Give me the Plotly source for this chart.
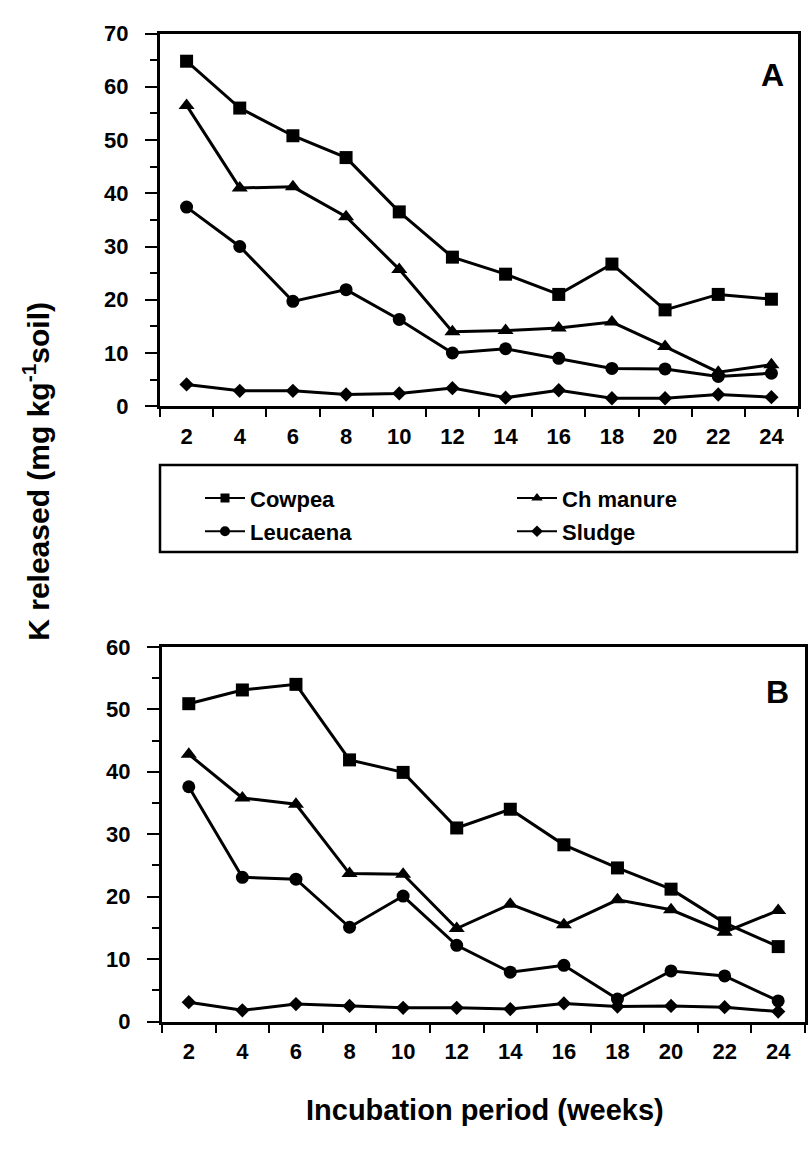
import plotly.graph_objects as go

weeks = [2, 4, 6, 8, 10, 12, 14, 16, 18, 20, 22, 24]
series_names = ["Cowpea", "Ch manure", "Leucaena", "Sludge"]

# Panel A values (mg kg-1 soil)
a_cowpea = [64.8, 56.0, 50.8, 46.7, 36.5, 28.0, 24.8, 21.0, 26.7, 18.1, 21.0, 20.1]
a_chmanure = [56.5, 41.0, 41.2, 35.6, 25.7, 14.0, 14.2, 14.7, 15.8, 11.2, 6.4, 7.8]
a_leucaena = [37.4, 30.0, 19.7, 21.9, 16.3, 10.0, 10.8, 9.0, 7.1, 7.0, 5.6, 6.2]
a_sludge = [4.1, 2.9, 2.9, 2.2, 2.4, 3.4, 1.6, 3.0, 1.5, 1.5, 2.2, 1.7]

# Panel B values
b_cowpea = [50.9, 53.1, 54.0, 41.9, 39.9, 31.0, 34.0, 28.3, 24.6, 21.2, 15.8, 12.0]
b_chmanure = [42.8, 35.8, 34.8, 23.7, 23.6, 14.9, 18.8, 15.5, 19.5, 17.9, 14.3, 17.8]
b_leucaena = [37.6, 23.1, 22.8, 15.1, 20.1, 12.2, 7.9, 9.0, 3.6, 8.1, 7.3, 3.3]
b_sludge = [3.1, 1.8, 2.8, 2.5, 2.2, 2.2, 2.0, 2.9, 2.4, 2.5, 2.3, 1.6]

y_ticks_a = [0, 10, 20, 30, 40, 50, 60, 70]
y_ticks_b = [0, 10, 20, 30, 40, 50, 60]
x_minor_ticks = [1, 3, 5, 7, 9, 11, 13, 15, 17, 19, 21, 23, 25]

W, H = 810, 1149
FONT = "Liberation Sans, Arial, sans-serif"


def px(x):
    return x / W


def py(y):
    return 1 - y / H


symbols = {"Cowpea": "square", "Ch manure": "triangle-up", "Leucaena": "circle", "Sludge": "diamond"}
sizes = {"Cowpea": 13, "Ch manure": 14, "Leucaena": 13, "Sludge": 11}
legend_sizes = {"Cowpea": 9, "Ch manure": 10, "Leucaena": 10, "Sludge": 9}

fig = go.Figure()

panel_a = [a_cowpea, a_chmanure, a_leucaena, a_sludge]
panel_b = [b_cowpea, b_chmanure, b_leucaena, b_sludge]

for name, vals in zip(series_names, panel_a):
    fig.add_trace(go.Scatter(
        x=weeks, y=vals, mode="lines+markers", name=name, showlegend=False,
        line=dict(color="black", width=3),
        marker=dict(symbol=symbols[name], size=sizes[name], color="black"),
        cliponaxis=False, xaxis="x", yaxis="y"))

for name, vals in zip(series_names, panel_b):
    fig.add_trace(go.Scatter(
        x=weeks, y=vals, mode="lines+markers", name=name, showlegend=False,
        line=dict(color="black", width=3),
        marker=dict(symbol=symbols[name], size=sizes[name], color="black"),
        cliponaxis=False, xaxis="x2", yaxis="y2"))

# legend proxies (one legend per entry for exact placement)
legend_ids = {"Cowpea": "legend", "Ch manure": "legend2", "Leucaena": "legend3", "Sludge": "legend4"}
for name in series_names:
    fig.add_trace(go.Scatter(
        x=[None], y=[None], mode="lines+markers", name=name, showlegend=True,
        legend=legend_ids[name],
        line=dict(color="black", width=2),
        marker=dict(symbol=symbols[name], size=legend_sizes[name], color="black"),
        xaxis="x", yaxis="y"))

axis_common = dict(showline=True, linewidth=3, linecolor="black", mirror=True,
                   showgrid=False, zeroline=False,
                   tickfont=dict(family=FONT, size=22, color="black", weight="bold"))

xaxis_common = dict(axis_common, range=[1, 25], tickmode="array", tickvals=weeks,
                    ticktext=[str(w) for w in weeks], ticks="outside", ticklen=0,
                    ticklabelstandoff=8,
                    minor=dict(tickmode="array", tickvals=x_minor_ticks, ticks="outside",
                               ticklen=8, tickwidth=2, tickcolor="black"))

fig.update_layout(
    width=W, height=H,
    margin=dict(l=0, r=0, t=0, b=0),
    paper_bgcolor="white", plot_bgcolor="white",
    xaxis=dict(xaxis_common, domain=[px(160), px(798)], anchor="y"),
    yaxis=dict(axis_common, domain=[py(403), py(22)], range=[0, 70], anchor="x",
               tickmode="array", tickvals=y_ticks_a, ticks="outside", ticklen=12,
               tickwidth=2, tickcolor="black", ticklabelstandoff=12,
               minor=dict(dtick=5, tick0=0, ticks="outside", ticklen=7, tickwidth=2,
                          tickcolor="black")),
    xaxis2=dict(xaxis_common, domain=[px(162), px(805)], anchor="y2"),
    yaxis2=dict(axis_common, domain=[py(1032), py(649)], range=[0, 60], anchor="x2",
                tickmode="array", tickvals=y_ticks_b, ticks="outside", ticklen=12,
                tickwidth=2, tickcolor="black", ticklabelstandoff=12,
                minor=dict(dtick=5, tick0=0, ticks="outside", ticklen=7, tickwidth=2,
                           tickcolor="black")),
)

leg_font = dict(family=FONT, size=22, color="black", weight="bold")
leg_common = dict(bgcolor="rgba(0,0,0,0)", borderwidth=0, font=leg_font,
                  xanchor="left", yanchor="middle", itemwidth=40, orientation="v")
fig.update_layout(
    legend=dict(leg_common, x=px(200), y=py(497)),
    legend2=dict(leg_common, x=px(512), y=py(497)),
    legend3=dict(leg_common, x=px(200), y=py(531)),
    legend4=dict(leg_common, x=px(512), y=py(531)),
)

# legend frame
fig.add_shape(type="rect", xref="paper", yref="paper",
              x0=px(160), x1=px(797), y0=py(552), y1=py(463),
              line=dict(color="black", width=2.5), fillcolor="rgba(0,0,0,0)")

annots = [
    dict(text="A", x=px(772), y=py(64), font=dict(family=FONT, size=32, color="black", weight="bold")),
    dict(text="B", x=px(777), y=py(695), font=dict(family=FONT, size=32, color="black", weight="bold")),
    dict(text="Incubation period (weeks)", x=px(485), y=py(1122),
         font=dict(family=FONT, size=29, color="black", weight="bold")),
    dict(text="K released (mg kg<sup>-1</sup>soil)", x=px(36), y=py(470), textangle=-90,
         font=dict(family=FONT, size=30, color="black", weight="bold")),
]
for a in annots:
    fig.add_annotation(xref="paper", yref="paper", showarrow=False,
                       xanchor="center", yanchor="middle", **a)

fig.write_html("out.html")
